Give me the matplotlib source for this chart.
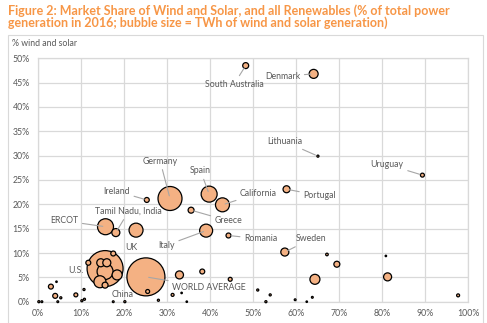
import matplotlib
matplotlib.use("Agg")
import matplotlib.pyplot as plt
from matplotlib.patches import Rectangle
from matplotlib.ticker import FuncFormatter, MultipleLocator

# labelled markets: renewables share (%), wind+solar share (%), wind+solar TWh
names = ["South Australia", "Denmark", "Lithuania", "Uruguay", "Portugal",
         "Germany", "Spain", "California", "Ireland", "Greece", "ERCOT",
         "Tamil Nadu, India", "UK", "Italy", "Romania", "Sweden", "U.S.",
         "China", "WORLD AVERAGE"]
renew = [48.3, 64.1, 65.1, 89.4, 57.8, 30.7, 39.8, 42.9, 25.3, 35.6, 15.7,
         18.1, 22.8, 39.1, 44.3, 57.4, 15.6, 14.4, 25.1]
wind_solar = [48.5, 46.8, 29.9, 26.0, 23.1, 21.2, 22.1, 19.9, 20.9, 18.8, 15.4,
              14.2, 14.7, 14.6, 13.6, 10.2, 6.8, 4.1, 5.1]
twh = [32, 73, 4, 14, 44, 518, 230, 176, 22, 32, 230,
       58, 176, 152, 22, 58, 1166, 130, 1300]

# unlabelled markets
other_renew = [17.5, 11.7, 14.6, 16.0, 15.6, 18.4, 15.6, 10.7, 3.0, 4.0, 8.8,
               10.8, 0.9, 4.6, 5.3, 4.3, 0.2, 10.2, 17.5, 20.2, 25.5, 28.0,
               31.3, 32.9, 33.4, 34.6, 38.2, 44.7, 51.1, 54.0, 53.0, 59.8,
               63.8, 62.5, 67.2, 64.4, 69.5, 80.9, 81.3, 97.7]
other_ws = [9.9, 8.0, 8.0, 8.0, 6.2, 5.5, 3.4, 2.5, 3.1, 1.2, 1.4,
            0.5, 0.0, 0.0, 0.8, 4.1, 0.0, 0.2, 0.0, 0.0, 2.1, 0.3,
            1.4, 5.5, 1.8, 0.0, 6.2, 4.6, 2.4, 1.4, 0.0, 0.4,
            0.9, 0.0, 9.7, 4.6, 7.7, 9.4, 5.1, 1.3]
other_twh = [22, 22, 58, 58, 230, 90, 32, 4, 22, 22, 14,
             4, 3, 3, 4, 2, 4, 4, 3, 4, 14, 4,
             8, 58, 2, 2, 22, 14, 4, 4, 4, 3,
             3, 2, 6, 90, 32, 2, 58, 8]

# label placement (data coords) and whether a leader line is drawn
label_pos = {
    "South Australia": (45.6, 44.7, True),
    "Denmark": (56.9, 46.3, True),
    "Lithuania": (57.4, 32.9, True),
    "Uruguay": (81.2, 28.2, True),
    "Portugal": (65.5, 21.8, True),
    "Germany": (28.4, 28.9, True),
    "Spain": (37.8, 26.9, True),
    "California": (51.3, 22.3, True),
    "Ireland": (18.3, 22.7, True),
    "Greece": (44.3, 16.6, True),
    "ERCOT": (6.1, 16.6, True),
    "Tamil Nadu, India": (21.1, 18.6, True),
    "UK": (21.6, 11.1, False),
    "Italy": (29.9, 11.6, True),
    "Romania": (51.8, 12.9, True),
    "Sweden": (63.5, 12.9, True),
    "U.S.": (8.8, 6.4, False),
    "China": (19.7, 1.5, False),
    "WORLD AVERAGE": (39.8, 2.9, True),
}

FILL = "#F4B183"
TEXT = "#595959"
GRID = "#D9D9D9"
TITLE = "#F79646"
SIZE_SCALE = 0.576  # TWh -> marker area (pt^2)

plt.rcParams["font.family"] = ["Lato", "DejaVu Sans"]

fig = plt.figure(figsize=(4.87, 3.23), dpi=100)
ax = fig.add_axes([38 / 487, 1 - 301.7 / 323, 430 / 487, 243.4 / 323])

# chart frame
fig.patches.append(Rectangle((8 / 487, -0.1), 475 / 487, 1.1 - 34.5 / 323,
                             transform=fig.transFigure, fill=False,
                             edgecolor=GRID, linewidth=0.8))

fig.text(8 / 487, 1 - 4 / 323,
         "Figure 2: Market Share of Wind and Solar, and all Renewables (% of total power\n"
         "generation in 2016; bubble size = TWh of wind and solar generation)",
         color=TITLE, fontsize=9, fontweight="bold", va="top", ha="left",
         linespacing=1.0)
fig.text(12 / 487, 1 - 43 / 323, "% wind and solar", color=TEXT, fontsize=6.3,
         va="center", ha="left")

# draw larger bubbles first so small ones stay visible
pts = list(zip(renew + other_renew, wind_solar + other_ws, twh + other_twh))
pts.sort(key=lambda p: -p[2])
ax.scatter([p[0] for p in pts], [p[1] for p in pts],
           s=[p[2] * SIZE_SCALE for p in pts], c=FILL, edgecolors="black",
           linewidths=0.9, zorder=3, clip_on=False)

for name, x, y in zip(names, renew, wind_solar):
    tx, ty, leader = label_pos[name]
    arrow = dict(arrowstyle="-", color="#A6A6A6", lw=0.8,
                 shrinkA=1, shrinkB=2) if leader else None
    ax.annotate(name, xy=(x, y), xytext=(tx, ty), ha="center", va="center",
                fontsize=6.3, color=TEXT, arrowprops=arrow, zorder=4)

ax.set_xlim(0, 100)
ax.set_ylim(0, 50)
ax.xaxis.set_major_locator(MultipleLocator(10))
ax.yaxis.set_major_locator(MultipleLocator(5))
pct = FuncFormatter(lambda v, _: f"{v:.0f}%")
ax.xaxis.set_major_formatter(pct)
ax.yaxis.set_major_formatter(pct)
ax.tick_params(length=0, labelsize=6.3, labelcolor=TEXT)
ax.tick_params(axis="y", pad=6)
ax.tick_params(axis="x", pad=5)
ax.grid(True, color=GRID, linewidth=0.9)
ax.set_axisbelow(True)
for side in ["top", "right"]:
    ax.spines[side].set_color(GRID)
    ax.spines[side].set_linewidth(0.9)
for side in ["left", "bottom"]:
    ax.spines[side].set_color(GRID)
    ax.spines[side].set_linewidth(0.9)

fig.savefig("out.png", dpi=100)
